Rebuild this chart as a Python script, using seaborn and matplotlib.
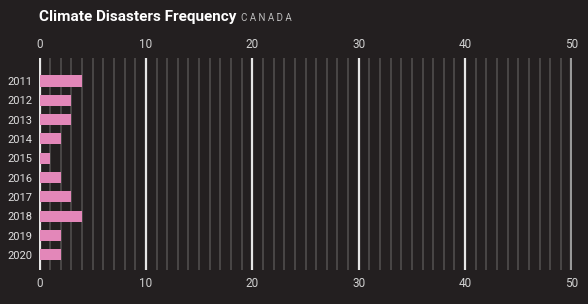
import matplotlib
matplotlib.use("Agg")
import matplotlib.pyplot as plt
import pandas as pd
import seaborn as sns

years = ["2011", "2012", "2013", "2014", "2015", "2016", "2017", "2018", "2019", "2020"]
counts = [4, 3, 3, 2, 1, 2, 3, 4, 2, 2]

BG = "#231f20"
PINK = "#e387b9"

sns.set_theme(style="dark")
plt.rcParams["font.family"] = ["Roboto", "DejaVu Sans"]

df = pd.DataFrame({"year": years, "count": counts})

fig = plt.figure(figsize=(5.88, 3.04), dpi=100, facecolor=BG)
ax = fig.add_axes([39 / 588, 34 / 304, 533 / 588, 212 / 304])
ax.set_facecolor(BG)

# grid lines: minor every 1, major every 10
for v in range(0, 51):
    if v % 10 == 0:
        col = "#e6e6e6" if v < 50 else "#9a9a9a"
        ax.axvline(v, color=col, lw=1.6, zorder=0)
    else:
        ax.axvline(v, color="#4d4a4a", lw=1.3, zorder=0)

sns.barplot(data=df, x="count", y="year", orient="h", color=PINK,
            saturation=1, width=0.57, linewidth=0, ax=ax, zorder=2)

ax.set_xlim(-0.05, 50.05)
ax.set_ylim(9.78, -1.19)
ax.set_xticks(range(0, 51, 10))
ax.tick_params(axis="x", which="both", top=True, labeltop=True, bottom=True,
               labelbottom=True, length=0, pad=5, colors="#d0d0d0", labelsize=8.5)
ax.tick_params(axis="y", length=0, pad=5, colors="#e0e0e0", labelsize=8)
ax.set_xlabel("")
ax.set_ylabel("")
ax.grid(False)
for s in ax.spines.values():
    s.set_visible(False)

title = fig.text(39 / 588, 1 - 17 / 304, "Climate Disasters Frequency", color="white",
                 fontsize=11, fontweight="bold", va="center", ha="left")
fig.canvas.draw()
bb = title.get_window_extent()
fig.text((bb.x1 + 5) / 588, 1 - 18 / 304, "C A N A D A", color="#bdbdbd",
         fontsize=7, va="center", ha="left")

fig.savefig("out.png", dpi=100, facecolor=BG)
